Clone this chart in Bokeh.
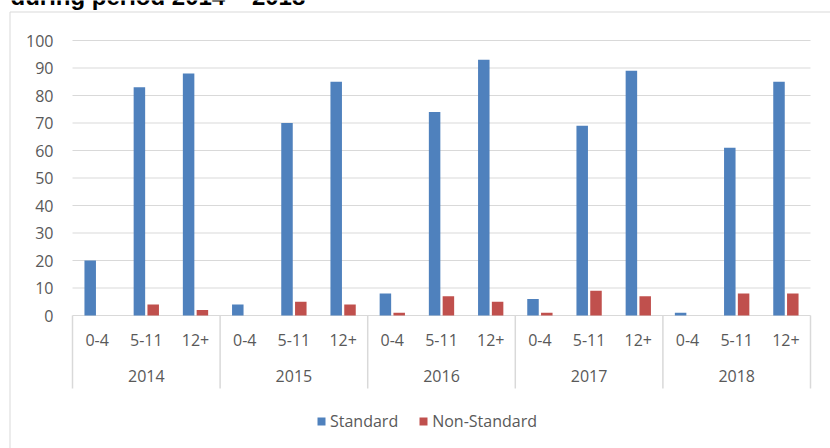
from bokeh.plotting import figure
from bokeh.models import ColumnDataSource, Legend, LegendItem, Range1d
from bokeh.transform import dodge
from bokeh.core.properties import value
from bokeh.embed import file_html
from bokeh.resources import INLINE

# ---- data ----
title_text = "during period 2014 \u2013 2018"
years = ["2014", "2015", "2016", "2017", "2018"]
age_groups = ["0-4", "5-11", "12+"]
standard = [20, 83, 88, 4, 70, 85, 8, 74, 93, 6, 69, 89, 1, 61, 85]
non_standard = [0, 4, 2, 0, 5, 4, 1, 7, 5, 1, 9, 7, 0, 8, 8]
y_ticks = [0, 10, 20, 30, 40, 50, 60, 70, 80, 90, 100]

# ---- layout constants (pixels) ----
W, H = 830, 448
CAT_PX = 49.2          # width of one category slot
UNIT_PX = 2.75         # pixels per value unit
X0_PX = 72             # screen x of first category's left edge
Y0_PX = 315            # screen y of value 0
BORDER_LEFT_PX, BORDER_TOP_PX = 9.5, 11.5

BLUE = "#4F81BD"
RED = "#C0504D"
GRID = "#D9D9D9"
TXT = "#595959"
FONT = "Open Sans"


def dx(px):
    return (px - X0_PX) / CAT_PX


def dy(py):
    return (Y0_PX - py) / UNIT_PX


n_cat = len(years) * len(age_groups)
idx = [i + 0.5 for i in range(n_cat)]
sub_labels = [age_groups[i % len(age_groups)] for i in range(n_cat)]

src = ColumnDataSource(dict(x=idx, std=standard, ns=non_standard, sub=sub_labels))

x_range = Range1d(dx(0), dx(W))
y_range = Range1d(dy(H), dy(0))

p = figure(width=W, height=H, x_range=x_range, y_range=y_range,
           output_backend="svg", toolbar_location=None,
           x_axis_location=None, y_axis_location=None,
           min_border_left=0, min_border_right=0,
           min_border_top=0, min_border_bottom=0)
p.grid.visible = False
p.outline_line_color = None
p.background_fill_color = "white"
p.border_fill_color = "white"

# document title (only its lower part lies inside the picture, as in the reference)
p.text(x=[dx(10)], y=[dy(-4)], text=[title_text], text_align="left",
       text_baseline="alphabetic", text_font=value("Liberation Sans"),
       text_font_style="bold", text_font_size="24px", text_color="#000000")

# chart border (left and top edges visible)
p.segment(x0=[dx(BORDER_LEFT_PX), dx(BORDER_LEFT_PX)], x1=[dx(BORDER_LEFT_PX), dx(W)],
          y0=[dy(H), dy(BORDER_TOP_PX)], y1=[dy(BORDER_TOP_PX), dy(BORDER_TOP_PX)],
          line_color=GRID, line_width=1)

# gridlines
p.segment(x0=[0] * len(y_ticks), x1=[n_cat] * len(y_ticks), y0=y_ticks, y1=y_ticks,
          line_color=GRID, line_width=1)

# bars
bar_w = 11.5 / CAT_PX
off = 6.9 / CAT_PX
r_std = p.vbar(x=dodge("x", -off), top="std", width=bar_w, source=src,
               fill_color=BLUE, line_color=None)
r_ns = p.vbar(x=dodge("x", off), top="ns", width=bar_w, source=src,
              fill_color=RED, line_color=None)

# category axis separators
seps = [k * len(age_groups) for k in range(len(years) + 1)]
sep_bottom = dy(388)
p.segment(x0=seps, x1=seps, y0=[0] * len(seps), y1=[sep_bottom] * len(seps),
          line_color=GRID, line_width=1.5)

# y tick labels
p.text(x=[0] * len(y_ticks), y=y_ticks, text=[str(t) for t in y_ticks],
       x_offset=-19, text_align="right", text_baseline="middle",
       text_font=value(FONT), text_font_size="16px", text_color=TXT)

# sub-category labels
p.text(x="x", y=dy(339.5), text="sub", source=src,
       text_align="center", text_baseline="middle",
       text_font=value(FONT), text_font_size="16px", text_color=TXT)

# year labels
year_x = [k * len(age_groups) + len(age_groups) / 2 for k in range(len(years))]
p.text(x=year_x, y=[dy(375.3)] * len(years), text=years,
       text_align="center", text_baseline="middle",
       text_font=value(FONT), text_font_size="16px", text_color=TXT)

legend = Legend(items=[LegendItem(label="Standard", renderers=[r_std]),
                       LegendItem(label="Non-Standard", renderers=[r_ns])],
                orientation="horizontal", location=(316, 16),
                border_line_color=None, background_fill_alpha=0,
                padding=0, margin=0, spacing=20,
                glyph_width=10, glyph_height=10, label_standoff=4,
                label_text_font=FONT, label_text_font_size="16px",
                label_text_color=TXT)
p.add_layout(legend)

open("out.html", "w").write(file_html(p, INLINE))
